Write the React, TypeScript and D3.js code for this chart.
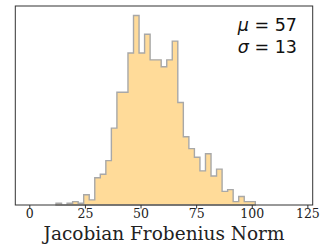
import React, { useEffect, useRef } from "react";
import * as d3 from "d3";

// histogram counts (36 equal bins)
const binLo = 12.0;
const binHi = 101.6;
const counts = [
  1, 0, 1, 2, 1, 6, 3, 16, 18, 26, 45, 66, 66, 89, 111, 89, 100, 85, 85, 81,
  85, 96, 60, 40, 33, 28, 20, 30, 17, 21, 8, 9, 2, 5, 2, 2,
];
const xTicks = [0, 25, 50, 75, 100, 125];
const xLabel = "Jacobian Frobenius Norm";
const statLines = [
  { sym: "μ", val: "57" },
  { sym: "σ", val: "13" },
];

const W = 326;
const H = 246;

const App = () => {
  const svgRef = useRef<SVGSVGElement | null>(null);

  useEffect(() => {
    const svg = d3.select(svgRef.current);
    svg.selectAll("*").remove();

    const left = 15.3,
      right = 312.7,
      top = 6,
      bottom = 205;

    const x = d3.scaleLinear().domain([-6.3, 127.4]).range([left, right]);
    const maxC = d3.max(counts) as number;
    const y = d3
      .scaleLinear()
      .domain([0, maxC * 1.05])
      .range([bottom, top]);

    const step = (binHi - binLo) / counts.length;
    const pts: [number, number][] = [[x(binLo), y(0)]];
    counts.forEach((c, i) => {
      const a = binLo + i * step;
      pts.push([x(a), y(c)]);
      pts.push([x(a + step), y(c)]);
    });
    pts.push([x(binHi), y(0)]);

    const line = d3.line();
    svg
      .append("path")
      .attr("d", line(pts) + "Z")
      .attr("fill", "#ffdb99")
      .attr("stroke", "#a8a8a8")
      .attr("stroke-width", 1.4)
      .attr("stroke-linejoin", "miter");

    // frame
    svg
      .append("rect")
      .attr("x", left)
      .attr("y", top)
      .attr("width", right - left)
      .attr("height", bottom - top)
      .attr("fill", "none")
      .attr("stroke", "#333")
      .attr("stroke-width", 1);

    // x axis
    const ax = svg
      .append("g")
      .attr("transform", `translate(0,${bottom})`)
      .call(d3.axisBottom(x).tickValues(xTicks).tickSize(3.5).tickPadding(1).tickFormat(d3.format("d")));
    ax.select(".domain").remove();
    ax.selectAll("line").attr("stroke", "#333");
    ax.selectAll("text")
      .style("font-family", "'DejaVu Serif', serif")
      .style("font-size", "12.5px")
      .style("fill", "#222");

    svg
      .append("text")
      .attr("x", (left + right) / 2)
      .attr("y", 239.5)
      .attr("text-anchor", "middle")
      .style("font-family", "'DejaVu Serif', serif")
      .style("font-size", "18.5px")
      .style("fill", "#222")
      .text(xLabel);

    // stats annotation
    statLines.forEach((s, i) => {
      const t = svg
        .append("text")
        .attr("x", 297)
        .attr("y", 30.7 + i * 22)
        .attr("text-anchor", "end")
        .style("font-family", "'DejaVu Sans', sans-serif")
        .style("font-size", "17.5px")
        .style("fill", "#111");
      t.append("tspan").style("font-style", "italic").text(s.sym);
      t.append("tspan").text(` = ${s.val}`);
    });
  }, []);

  return (
    <svg
      ref={svgRef}
      width={W}
      height={H}
      style={{ position: "absolute", left: 0, top: 0, background: "#fff" }}
    />
  );
};

export default App;
